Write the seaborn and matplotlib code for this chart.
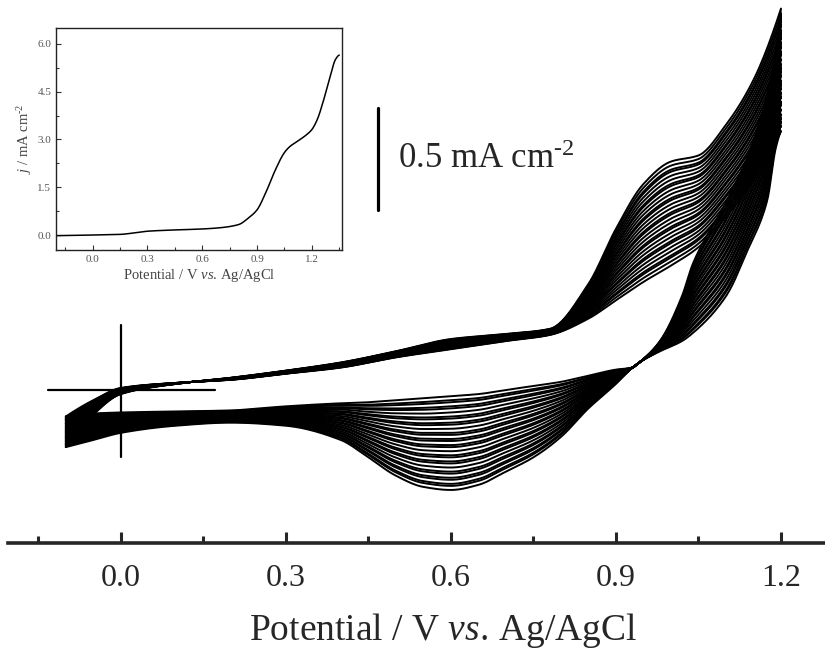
import numpy as np
import pandas as pd
import matplotlib
matplotlib.use("Agg")
import matplotlib.pyplot as plt
import seaborn as sns
from matplotlib.ticker import MultipleLocator, FormatStrFormatter

sns.set_style("ticks")
plt.rcParams["font.family"] = ["Liberation Serif", "DejaVu Serif"]
plt.rcParams["mathtext.fontset"] = "custom"
plt.rcParams["mathtext.rm"] = "Liberation Serif"
plt.rcParams["mathtext.it"] = "Liberation Serif:italic"

# forward (anodic) sweep, first and last cycle, mA cm-2
E_fwd = [-0.10, -0.05, 0.00, 0.10, 0.20, 0.30, 0.40, 0.50, 0.60, 0.70, 0.78,
         0.85, 0.90, 0.95, 1.00, 1.05, 1.10, 1.15, 1.20]
j_fwd_first = [-0.13, -0.05, 0.01, 0.035, 0.05, 0.08, 0.11, 0.16, 0.20, 0.24, 0.27,
               0.35, 0.44, 0.53, 0.61, 0.70, 0.85, 1.03, 1.27]
j_fwd_last = [-0.28, -0.12, -0.02, 0.03, 0.06, 0.095, 0.135, 0.19, 0.25, 0.275, 0.30,
              0.52, 0.79, 1.01, 1.12, 1.15, 1.30, 1.52, 1.87]

# reverse (cathodic) sweep, first and last cycle
E_rev = [1.20, 1.19, 1.175, 1.14, 1.10, 1.04, 1.02, 0.98, 0.945, 0.93, 0.90, 0.85, 0.80,
         0.75, 0.70, 0.65, 0.60, 0.55, 0.50, 0.45, 0.40, 0.30, 0.20, 0.10, 0.00, -0.05, -0.10]
j_rev_first = [1.27, 1.18, 0.93, 0.69, 0.46, 0.28, 0.24, 0.19, 0.14, 0.11, 0.10, 0.07, 0.04,
               0.02, 0.00, -0.02, -0.03, -0.04, -0.05, -0.06, -0.065, -0.08, -0.10, -0.105,
               -0.11, -0.115, -0.13]
j_rev_last = [1.87, 1.65, 1.45, 1.15, 0.92, 0.62, 0.46, 0.24, 0.14, 0.11, 0.03, -0.09, -0.23,
              -0.33, -0.40, -0.465, -0.49, -0.475, -0.42, -0.33, -0.245, -0.175, -0.16,
              -0.175, -0.21, -0.245, -0.28]

# peak currents of every cycle: anodic at 1.0 V, cathodic at 0.6 V
anodic_peak = [0.61, 0.63, 0.65, 0.66, 0.68, 0.70, 0.72, 0.73, 0.75, 0.77,
               0.79, 0.80, 0.82, 0.84, 0.86, 0.87, 0.89, 0.91, 0.93, 0.94,
               0.96, 0.98, 1.00, 1.01, 1.03, 1.05, 1.07, 1.08, 1.10, 1.12]
cathodic_peak = [-0.03, -0.05, -0.06, -0.08, -0.09, -0.11, -0.13, -0.14, -0.16, -0.17,
                 -0.19, -0.21, -0.22, -0.24, -0.25, -0.27, -0.28, -0.30, -0.32, -0.33,
                 -0.35, -0.36, -0.38, -0.40, -0.41, -0.43, -0.44, -0.46, -0.47, -0.49]

# inset: linear sweep
E_lsv = [-0.20, 0.00, 0.15, 0.30, 0.45, 0.60, 0.70, 0.80, 0.85, 0.90, 0.95, 1.00, 1.05,
         1.08, 1.12, 1.16, 1.20, 1.23, 1.26, 1.30, 1.33, 1.35]
j_lsv = [-0.02, 0.00, 0.02, 0.12, 0.16, 0.19, 0.23, 0.33, 0.52, 0.79, 1.36, 2.04, 2.59,
         2.78, 2.94, 3.10, 3.31, 3.63, 4.15, 4.98, 5.52, 5.65]


def pchip(x, y, xn):
    # monotone cubic through the read points, only to draw smooth lines
    x = np.asarray(x, float)
    y = np.asarray(y, float)
    h = np.diff(x)
    d = np.diff(y) / h
    m = np.zeros_like(y)
    for k in range(1, len(x) - 1):
        if d[k - 1] * d[k] > 0:
            w1 = 2 * h[k] + h[k - 1]
            w2 = h[k] + 2 * h[k - 1]
            m[k] = (w1 + w2) / (w1 / d[k - 1] + w2 / d[k])
    for i0, hh, dd in [(0, h, d), (-1, h[::-1], d[::-1])]:
        e = ((2 * hh[0] + hh[1]) * dd[0] - hh[0] * dd[1]) / (hh[0] + hh[1])
        if np.sign(e) != np.sign(dd[0]):
            e = 0.0
        elif np.sign(dd[0]) != np.sign(dd[1]) and abs(e) > 3 * abs(dd[0]):
            e = 3 * dd[0]
        m[i0] = e
    i = np.clip(np.searchsorted(x, xn) - 1, 0, len(x) - 2)
    t = (xn - x[i]) / h[i]
    h00 = 2 * t**3 - 3 * t**2 + 1
    h10 = t**3 - 2 * t**2 + t
    h01 = -2 * t**3 + 3 * t**2
    h11 = t**3 - t**2
    return h00 * y[i] + h10 * h[i] * m[i] + h01 * y[i + 1] + h11 * h[i] * m[i + 1]


grid = np.linspace(-0.10, 1.20, 500)
rows = []
a0, a1 = anodic_peak[0], anodic_peak[-1]
c0, c1 = cathodic_peak[0], cathodic_peak[-1]
jf0, jf1 = np.array(j_fwd_first), np.array(j_fwd_last)
jr0, jr1 = np.array(j_rev_first), np.array(j_rev_last)
for k in range(len(anodic_peak)):
    wf = (anodic_peak[k] - a0) / (a1 - a0)
    wr = (cathodic_peak[k] - c0) / (c1 - c0)
    jf = pchip(E_fwd, jf0 + wf * (jf1 - jf0), grid)
    jr = pchip(E_rev[::-1], (jr0 + wr * (jr1 - jr0))[::-1], grid)[::-1]
    E = np.concatenate([grid, grid[::-1]])
    j = np.concatenate([jf, jr])
    rows.append(pd.DataFrame({"E": E, "j": j, "cycle": k}))
cv = pd.concat(rows, ignore_index=True)

fig = plt.figure(figsize=(8.25, 6.5), dpi=100)
ax = fig.add_axes([8 / 825, 107 / 650, 817 / 825, 543 / 650])
sns.lineplot(data=cv, x="E", y="j", units="cycle", estimator=None, sort=False,
             color="black", lw=1.4, ax=ax)
ax.set_xlim(-0.205, 1.280)
ax.set_ylim(-0.75, 1.912)
for s in ["left", "top", "right"]:
    ax.spines[s].set_visible(False)
ax.spines["bottom"].set_linewidth(2.6)
ax.set_yticks([])
ax.xaxis.set_minor_locator(MultipleLocator(0.15))
ax.set_xticks([0.0, 0.3, 0.6, 0.9, 1.2])
ax.set_xticklabels(["0.0", "0.3", "0.6", "0.9", "1.2"])
ax.tick_params(axis="x", which="major", direction="in", length=8, width=2.2,
               labelsize=23, pad=15)
ax.tick_params(axis="x", which="minor", direction="in", length=5, width=2.2)
ax.set_xlabel(r"Potential / V $\mathit{vs.}\,$Ag/AgCl", fontsize=27)
ax.xaxis.set_label_coords(0.532, -0.125)
ax.set_ylabel("")

# zero-current cross and scale bar
ax.plot([0, 0], [-0.33, 0.32], color="black", lw=1.6)
ax.plot([-0.133, 0.171], [0, 0], color="black", lw=1.6)
ax.plot([0.467, 0.467], [0.882, 1.382], color="black", lw=2.3)
ax.text(0.504, 1.13, r"0.5 mA cm$^{\text{-}2}$", fontsize=25, va="center", ha="left")

# inset
lsv_grid = np.linspace(E_lsv[0], E_lsv[-1], 300)
axi = fig.add_axes([56 / 825, 1 - 250 / 650, 286 / 825, 222 / 650])
sns.lineplot(x=lsv_grid, y=pchip(E_lsv, j_lsv, lsv_grid), color="black", lw=1.1, ax=axi)
axi.set_xlim(-0.20, 1.365)
axi.set_ylim(-0.47, 6.5)
axi.xaxis.set_major_locator(MultipleLocator(0.3))
axi.xaxis.set_minor_locator(MultipleLocator(0.15))
axi.yaxis.set_major_locator(MultipleLocator(1.5))
axi.yaxis.set_minor_locator(MultipleLocator(0.75))
axi.xaxis.set_major_formatter(FormatStrFormatter("%.1f"))
axi.yaxis.set_major_formatter(FormatStrFormatter("%.1f"))
for s in axi.spines.values():
    s.set_linewidth(1.0)
    s.set_color("#222222")
axi.tick_params(which="both", direction="in", width=0.8, labelsize=8,
                labelcolor="#555555", color="#333333")
axi.tick_params(which="major", length=3.5)
axi.tick_params(which="minor", length=2)
axi.set_xlabel(r"Potential / V $\mathit{vs.}\,$Ag/AgCl", fontsize=10.5,
               color="#444444", labelpad=2)
axi.set_ylabel(r"$j$ / mA cm$^{\text{-}2}$", fontsize=10.5, color="#444444", labelpad=2)

fig.savefig("out.png", dpi=100)
